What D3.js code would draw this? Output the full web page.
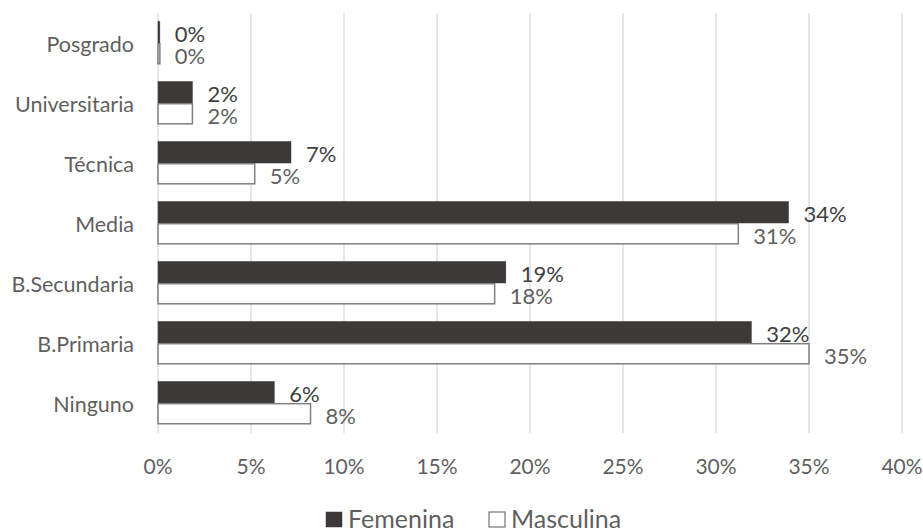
<!DOCTYPE html>
<html>
<head>
<meta charset="utf-8">
<script src="https://cdn.jsdelivr.net/npm/d3@7.9.0/dist/d3.min.js"></script>
<style>
  body { margin: 0; background: #fff; }
  svg { font-family: Lato, "Open Sans", sans-serif; }
</style>
</head>
<body>
<svg id="chart" width="923" height="529"></svg>
<script>
const categories = ["Posgrado", "Universitaria", "Técnica", "Media", "B.Secundaria", "B.Primaria", "Ninguno"];
const series = ["Femenina", "Masculina"];
const femenina = [0.001, 0.0185, 0.0715, 0.339, 0.187, 0.319, 0.0625];
const masculina = [0.001, 0.0185, 0.052, 0.312, 0.181, 0.350, 0.082];
const xTicks = [0, 0.05, 0.10, 0.15, 0.20, 0.25, 0.30, 0.35, 0.40];

const svg = d3.select("#chart");
const area = { left: 158, right: 902, top: 13, bottom: 433 };

const x = d3.scaleLinear().domain([0, 0.4]).range([area.left, area.right]);
const y = d3.scaleBand().domain(categories).range([area.top, area.bottom])
  .paddingInner(0.283).paddingOuter(0.142);
const ySub = d3.scaleBand().domain(series).range([0, y.bandwidth()]);

const fmt = d3.format(".0%");

// gridlines
svg.append("g")
  .selectAll("line")
  .data(xTicks)
  .join("line")
  .attr("x1", d => x(d)).attr("x2", d => x(d))
  .attr("y1", area.top).attr("y2", area.bottom)
  .attr("stroke", "#d9d9d9")
  .attr("stroke-width", 1.3);

// x tick labels
svg.append("g")
  .selectAll("text")
  .data(xTicks)
  .join("text")
  .attr("x", d => x(d))
  .attr("y", 465)
  .attr("text-anchor", "middle")
  .attr("dominant-baseline", "central")
  .attr("fill", "#5f5f5f")
  .style("font-size", "21px")
  .text(d => fmt(d));

// category labels
svg.append("g")
  .selectAll("text")
  .data(categories)
  .join("text")
  .attr("x", 134)
  .attr("y", d => y(d) + y.bandwidth() / 2 + 1)
  .attr("text-anchor", "end")
  .attr("dominant-baseline", "central")
  .attr("fill", "#5f5f5f")
  .style("font-size", "21.5px")
  .text(d => d);

// bars
const rows = categories.map((c, i) => ({ cat: c, Femenina: femenina[i], Masculina: masculina[i] }));

series.forEach(s => {
  const fem = s === "Femenina";
  const g = svg.append("g").attr("class", "series-" + s);

  g.selectAll("rect")
    .data(rows)
    .join("rect")
    .attr("x", x(0))
    .attr("y", d => y(d.cat) + ySub(s) + (fem ? 0 : 0.7))
    .attr("width", d => x(d[s]) - x(0))
    .attr("height", ySub.bandwidth() - (fem ? 0 : 1.4))
    .attr("fill", fem ? "#3b3a38" : "#ffffff")
    .attr("stroke", fem ? "#3b3a38" : "#7f7f7f")
    .attr("stroke-width", fem ? 0.5 : 1.5);

  g.selectAll("text")
    .data(rows)
    .join("text")
    .attr("x", d => x(d[s]) + 15)
    .attr("y", d => y(d.cat) + ySub(s) + ySub.bandwidth() / 2 + 1.5)
    .attr("dominant-baseline", "central")
    .attr("fill", fem ? "#404040" : "#5f5f5f")
    .style("font-size", "22px")
    .text(d => fmt(d[s]));
});

// legend
const legendPos = [{ s: "Femenina", x: 326 }, { s: "Masculina", x: 489 }];
const legend = svg.append("g");
legendPos.forEach(l => {
  const fem = l.s === "Femenina";
  legend.append("rect")
    .attr("x", l.x).attr("y", 512)
    .attr("width", 16).attr("height", 15)
    .attr("fill", fem ? "#3b3a38" : "#ffffff")
    .attr("stroke", fem ? "#3b3a38" : "#7f7f7f")
    .attr("stroke-width", fem ? 0.5 : 1.3);
  legend.append("text")
    .attr("x", l.x + 22).attr("y", 518)
    .attr("dominant-baseline", "central")
    .attr("fill", "#5f5f5f")
    .style("font-size", "25px")
    .text(l.s);
});
</script>
</body>
</html>
